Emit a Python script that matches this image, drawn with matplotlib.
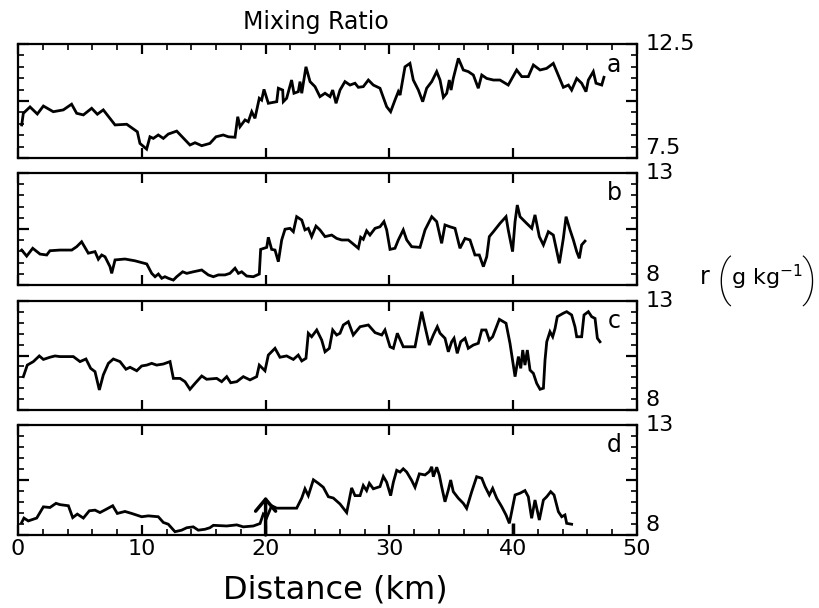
import matplotlib
matplotlib.use('Agg')
import matplotlib.pyplot as plt
from matplotlib.ticker import MultipleLocator

plt.rcParams['font.family'] = ['DejaVu Sans']
plt.rcParams['mathtext.fontset'] = 'dejavusans'

# panel a (7.5 - 12.5 g/kg)
a_km = [0.3, 0.43, 0.97, 1.56, 2.05, 2.85, 3.66, 4.33, 4.74, 5.28, 5.95, 6.41, 6.89, 7.84,
        8.78, 9.64, 9.85, 10.39, 10.66, 10.93, 11.33, 11.74, 12.14, 12.82, 13.89, 14.3,
        14.84, 15.5, 15.99, 16.58, 16.99, 17.53, 17.75, 17.93, 18.34, 18.6, 18.88, 19.14,
        19.49, 19.68, 19.87, 20.22, 20.9, 21.03, 21.38, 21.43, 21.7, 22.1, 22.29, 22.64,
        22.78, 22.92, 23.26, 23.59, 23.99, 24.39, 24.8, 25.2, 25.42, 25.69, 26.01, 26.41,
        26.82, 27.22, 27.49, 27.89, 28.3, 28.7, 29.24, 29.78, 30.1, 30.45, 30.72, 30.86,
        31.26, 31.66, 31.93, 32.34, 32.69, 33.01, 33.42, 33.82, 34.09, 34.36, 34.63, 34.84,
        34.98, 35.16, 35.57, 35.97, 36.37, 36.78, 37.18, 37.46, 37.86, 38.4, 38.93, 39.6,
        40.28, 40.69, 41.22, 41.63, 42.17, 42.7, 43.24, 43.52, 44.05, 44.46, 44.72, 45.13,
        45.53, 45.88, 46.07, 46.47, 46.69, 47.15, 47.33]
a_val = [8.95, 9.46, 9.74, 9.43, 9.78, 9.53, 9.61, 9.86, 9.46, 9.39, 9.68, 9.42, 9.61, 8.95,
         8.98, 8.65, 8.14, 7.89, 8.43, 8.36, 8.51, 8.36, 8.55, 8.68, 8.07, 8.17,
         8.04, 8.14, 8.43, 8.51, 8.43, 8.41, 9.31, 8.87, 9.17, 9.09, 9.53, 9.24,
         10.12, 10.04, 10.51, 9.9, 9.97, 10.56, 10.48, 9.97, 10.12, 10.92, 10.34, 10.41,
         10.85, 10.34, 11.5, 10.85, 10.63, 10.19, 10.34, 10.19, 10.48, 9.9, 10.48, 10.85,
         10.7, 10.78, 10.6, 10.63, 10.92, 10.7, 10.56, 9.75, 9.53, 10.04, 10.41, 10.26,
         11.5, 11.65, 10.92, 10.48, 9.97, 10.56, 10.85, 11.29, 10.92, 10.16, 10.34, 10.92,
         10.48, 10.99, 11.87, 11.36, 11.29, 11.14, 10.56, 11.14, 10.99, 10.92, 10.92, 10.7,
         11.36, 11.07, 11.07, 11.58, 11.36, 11.43, 11.65, 11.29, 10.6, 10.7, 10.48, 10.99,
         10.78, 10.41, 10.92, 11.29, 10.78, 10.7, 11.04]

# panel b (8 - 13 g/kg)
b_km = [0.3, 0.7, 1.19, 1.78, 2.32, 2.58, 3.39, 4.34, 4.74, 5.14, 5.68, 6.22, 6.49, 6.76,
        7.03, 7.43, 7.57, 7.84, 8.64, 9.45, 10.4, 10.8, 11.07, 11.34, 11.61, 11.87, 12.14,
        12.55, 12.82, 13.3, 13.63, 14.16, 14.84, 15.37, 15.78, 16.18, 16.72, 17.12, 17.53,
        17.8, 18.07, 18.47, 19.01, 19.49, 19.6, 20.09, 20.22, 20.49, 20.76, 21.03, 21.3,
        21.57, 21.97, 22.24, 22.51, 22.92, 23.18, 23.45, 23.72, 24.07, 24.39, 24.8, 25.34,
        25.74, 26.14, 26.68, 27.08, 27.49, 27.68, 27.89, 28.16, 28.43, 28.84, 29.24, 29.56,
        29.78, 30.05, 30.45, 30.72, 31.12, 31.4, 31.8, 32.47, 32.88, 33.42, 33.82, 34.22,
        34.49, 34.89, 35.3, 35.7, 36.11, 36.51, 36.91, 37.26, 37.59, 37.86, 38.07, 38.4,
        38.93, 39.42, 39.6, 39.95, 40.15, 40.33, 40.55, 41.09, 41.5, 41.76, 42.11, 42.44,
        42.84, 43.24, 43.73, 44.05, 44.27, 44.59, 44.86, 45.13, 45.34, 45.53, 45.8]
b_val = [9.56, 9.29, 9.64, 9.38, 9.34, 9.53, 9.56, 9.56, 9.71, 9.93, 9.42, 9.49, 9.15, 9.34,
         9.26, 8.82, 8.52, 9.12, 9.16, 9.08, 8.94, 8.52, 8.37, 8.49, 8.3, 8.37, 8.3,
         8.22, 8.37, 8.59, 8.52, 8.59, 8.67, 8.45, 8.37, 8.45, 8.45, 8.52, 8.75,
         8.52, 8.59, 8.4, 8.37, 8.49, 9.59, 9.68, 10.13, 9.59, 9.56, 9.04, 10.01,
         10.49, 10.53, 10.38, 11.05, 10.9, 10.46, 10.53, 10.16, 10.63, 10.46, 10.16, 10.23,
         10.08, 10.01, 10.01, 9.83, 9.64, 10.13, 10.04, 10.42, 10.23, 10.53, 10.6, 10.83,
         10.46, 9.59, 9.64, 10.01, 10.46, 10.01, 9.71, 9.68, 10.46, 11.05, 10.83, 9.86,
         10.68, 10.6, 10.53, 9.64, 10.08, 10.01, 9.34, 9.34, 8.82, 9.26, 10.16, 10.38,
         10.75, 11.05, 10.46, 9.49, 10.83, 11.57, 11.05, 10.75, 10.53, 11.13, 10.16, 9.79,
         10.38, 10.23, 8.97, 10.08, 11.05, 10.46, 10.01, 9.49, 9.19, 9.79, 9.96]

# panel c (8 - 13 g/kg)
c_km = [0.43, 0.75, 1.24, 1.72, 2.05, 2.58, 2.99, 3.39, 4.47, 5.01, 5.49, 5.87, 6.22, 6.57,
        6.89, 7.3, 7.7, 8.24, 8.72, 9.05, 9.59, 9.99, 10.4, 10.8, 11.2, 11.74, 12.28,
        12.55, 13.09, 13.49, 13.89, 14.3, 14.84, 15.24, 16.05, 16.45, 16.86, 17.18, 17.67,
        18.2, 18.74, 19.28, 19.49, 19.95, 20.22, 20.76, 21.16, 21.7, 22.24, 22.64, 22.92,
        23.26, 23.45, 23.72, 24.13, 24.53, 24.8, 25.15, 25.42, 25.74, 26.01, 26.28, 26.68,
        27.08, 27.63, 28.3, 28.84, 29.38, 29.64, 30.05, 30.32, 30.64, 31.12, 32.07, 32.61,
        32.88, 33.22, 33.55, 33.87, 34.09, 34.49, 34.76, 35.03, 35.22, 35.48, 35.76, 36.11,
        36.37, 36.78, 37.18, 37.46, 37.8, 38.07, 38.34, 38.88, 39.42, 39.74, 40.15, 40.42,
        40.61, 40.77, 40.95, 41.14, 41.36, 41.63, 41.9, 42.17, 42.44, 42.57, 42.71, 42.97,
        43.19, 43.38, 43.56, 44.05, 44.32, 44.72, 44.99, 45.13, 45.53, 45.72, 46.07, 46.34,
        46.61, 46.8, 47.01]
c_val = [9.53, 10.06, 10.22, 10.48, 10.32, 10.42, 10.48, 10.45, 10.45, 10.22, 10.34, 9.91,
         9.76, 8.92, 9.61, 10.14, 10.34, 10.22, 9.87, 9.96, 9.8, 10.02, 10.06, 10.14, 10.06,
         10.11, 10.22, 9.45, 9.45, 9.3, 8.95, 9.22, 9.56, 9.41, 9.45, 9.3, 9.53, 9.25, 9.3,
         9.53, 9.38, 9.53, 10.06, 9.8, 10.52, 10.83, 10.42, 10.48, 10.32, 10.52, 10.25,
         10.37, 11.52, 11.36, 11.67, 11.21, 10.67, 10.83, 11.67, 11.44, 11.52, 11.9, 12.05,
         11.44, 11.82, 11.9, 11.55, 11.44, 11.67, 10.9, 10.83, 11.52, 10.9, 10.9, 12.51,
         11.82, 10.98, 11.44, 11.82, 11.52, 11.29, 10.67, 11.13, 11.29, 10.6, 11.13, 11.29,
         10.83, 10.98, 11.06, 11.67, 11.67, 11.21, 11.36, 12.16, 11.98, 11.06, 9.53, 10.45,
         9.91, 10.75, 10.06, 10.75, 9.83, 9.68, 9.22, 8.95, 9.0, 10.29, 11.13, 11.59,
         11.36, 11.74, 12.28, 12.44, 12.51, 12.36, 11.82, 11.36, 11.36, 12.36, 12.51, 12.28,
         12.2, 11.29, 11.13]

# panel d (8 - 13 g/kg)
d_km = [0.3, 0.48, 0.83, 1.51, 2.05, 2.58, 3.07, 3.39, 4.07, 4.42, 4.79, 5.28, 5.76, 6.22,
        6.62, 7.16, 7.65, 8.02, 8.64, 9.18, 9.99, 10.53, 11.33, 11.74, 12.14, 12.68, 13.22,
        13.63, 14.16, 14.56, 15.1, 15.5, 15.78, 16.86, 17.67, 18.2, 19.01, 19.55, 19.81,
        20.09, 20.49, 20.9, 22.51, 22.92, 23.18, 23.45, 23.86, 24.26, 24.66, 25.07, 25.47,
        26.01, 26.55, 26.95, 27.22, 27.63, 27.89, 28.16, 28.38, 28.7, 29.24, 29.51, 29.78,
        30.1, 30.32, 30.59, 30.86, 31.12, 31.4, 31.8, 32.07, 32.42, 32.88, 33.22, 33.42,
        33.55, 33.82, 34.03, 34.22, 34.49, 34.76, 34.95, 35.16, 35.57, 35.97, 36.24, 36.65,
        37.05, 37.46, 37.73, 38.07, 38.34, 38.67, 39.07, 39.42, 39.69, 40.15, 40.55, 40.95,
        41.22, 41.49, 41.76, 42.11, 42.44, 42.71, 43.03, 43.3, 43.65, 43.92, 44.18, 44.32,
        44.72]
d_val = [8.57, 8.77, 8.64, 8.77, 9.28, 9.25, 9.44, 9.38, 9.33, 8.79, 8.95, 8.77, 9.1, 9.13,
         9.02, 9.18, 9.33, 8.98, 9.07, 8.98, 8.83, 8.87, 8.83, 8.57, 8.49, 8.15, 8.22,
         8.33, 8.37, 8.22, 8.26, 8.33, 8.44, 8.41, 8.46, 8.37, 8.41, 8.52, 8.95,
         8.79, 9.33, 9.22, 9.22, 9.68, 10.1, 9.79, 10.51, 10.35, 10.17, 9.74, 9.68,
         9.41, 9.02, 10.14, 9.79, 9.79, 10.25, 10.02, 10.35, 10.1, 10.2, 10.66, 10.4,
         9.79, 10.4, 10.94, 10.86, 11.01, 10.86, 10.48, 10.17, 10.78, 10.73, 10.88, 11.1,
         10.65, 11.08, 10.73, 10.2, 9.51, 10.05, 10.5, 9.97, 9.67, 9.44, 9.21, 9.97,
         10.65, 10.58, 10.2, 9.82, 10.12, 9.67, 9.29, 8.91, 8.53, 9.82, 9.9, 10.02,
         9.74, 8.76, 9.59, 8.68, 9.59, 9.74, 9.97, 9.82, 9.06, 8.83, 8.91, 8.53,
         8.49]

panel_letters = ['a', 'b', 'c', 'd']
y_ranges = [(7.5, 12.5), (8, 13), (8, 13), (8, 13)]
x_tick_labels = ['0', '10', '20', '30', '40', '50']

# axes boxes (pixels from top of 820x608 figure): left, right, top, bottom
boxes = [(18, 637, 44, 158), (18, 637, 173, 285), (18, 637, 301, 410), (18, 637, 425, 535)]

W, H = 820, 608
fig = plt.figure(figsize=(W / 100, H / 100), dpi=100)

series = [(a_km, a_val), (b_km, b_val), (c_km, c_val), (d_km, d_val)]
axes = []
for i, ((km, val), (lo, hi), letter) in enumerate(zip(series, y_ranges, panel_letters)):
    l, r, t, b = boxes[i]
    ax = fig.add_axes([l / W, 1 - b / H, (r - l) / W, (b - t) / H])
    axes.append(ax)
    ax.plot(km, val, color='black', lw=2.0, solid_joinstyle='miter')
    ax.set_xlim(0, 50)
    ax.set_ylim(lo, hi)
    for s in ax.spines.values():
        s.set_linewidth(1.6)

    # x ticks
    ax.xaxis.set_major_locator(MultipleLocator(10))
    ax.xaxis.set_minor_locator(MultipleLocator(2))
    last = i == 3
    ax.tick_params(axis='x', which='major', direction='in', top=True, bottom=True,
                   length=7, width=1.6, labelbottom=last, labelsize=16, pad=3)
    ax.tick_params(axis='x', which='minor', direction='in', top=(i == 0), bottom=last,
                   length=4, width=1.2)
    if last:
        ax.set_xticks([0, 10, 20, 30, 40, 50], x_tick_labels)

    # y ticks, labels on the right at the ends only
    mid = (lo + hi) / 2
    ax.set_yticks([lo, mid, hi], [f'{lo:g}', '', f'{hi:g}'])
    ax.yaxis.set_minor_locator(MultipleLocator(0.5))
    ax.tick_params(axis='y', which='major', direction='in', left=True, right=True,
                   labelleft=False, labelright=True, length=8, width=1.6,
                   labelsize=16, pad=6)
    ax.tick_params(axis='y', which='minor', direction='in', left=True, right=True,
                   length=4, width=1.2)
    ticks = ax.yaxis.get_major_ticks()
    ticks[0].label2.set_verticalalignment('bottom')
    ticks[2].label2.set_verticalalignment('center')

    ax.text(0.963, 0.82, letter, transform=ax.transAxes, fontsize=17,
            ha='center', va='center')

# markers on the bottom trace
ax = axes[3]
ax.annotate('', xy=(20, 9.75), xytext=(20, 8.0),
            arrowprops=dict(arrowstyle='->,head_length=0.43,head_width=0.36',
                            mutation_scale=20, lw=2.5, color='black',
                            shrinkA=0, shrinkB=0))
ax.vlines(40, 8.0, 8.55, color='black', lw=2.5)

fig.text(316 / W, 1 - 22 / H, 'Mixing Ratio', fontsize=17, ha='center', va='center')
fig.text(335 / W, 1 - 590 / H, 'Distance (km)', fontsize=23, ha='center', va='center')

# r (g kg^-1) with tall thin parentheses
paren_font = dict(family=['Roboto', 'DejaVu Sans'], weight='light', fontsize=36)
fig.text(700 / W, 1 - 277 / H, 'r', fontsize=17, ha='left', va='center')
fig.text(724 / W, 1 - 281 / H, '(', ha='center', va='center', **paren_font)
fig.text(731 / W, 1 - 277 / H, r'g kg$^{-1}$', fontsize=16, ha='left', va='center')
fig.text(809 / W, 1 - 281 / H, ')', ha='center', va='center', **paren_font)

fig.savefig('out.png', dpi=100)
